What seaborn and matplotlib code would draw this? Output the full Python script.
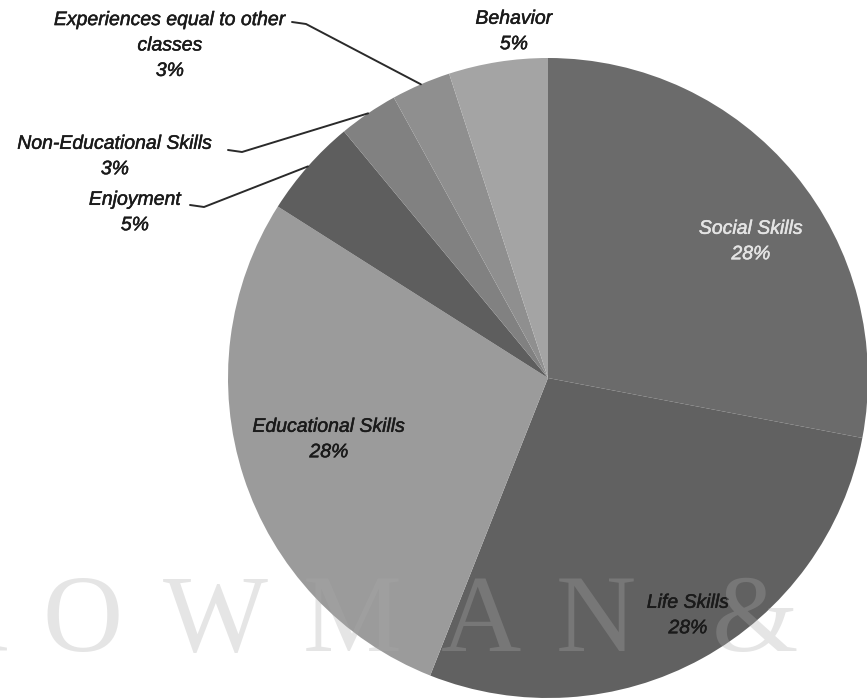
import numpy as np
import matplotlib
matplotlib.use("Agg")
import matplotlib.pyplot as plt
import matplotlib.patheffects as pe
import seaborn as sns

# Survey categories and their share of responses (%), clockwise from 12 o'clock
categories = ["Social Skills", "Life Skills", "Educational Skills", "Enjoyment",
              "Non-Educational Skills", "Experiences equal to other\nclasses", "Behavior"]
shares = [28, 28, 28, 5, 3, 3, 5]
pct_labels = ["28%", "28%", "28%", "5%", "3%", "3%", "5%"]
slice_colors = ["#6b6b6b", "#616161", "#9b9b9b", "#5e5e5e", "#818181", "#8f8f8f", "#a4a4a4"]

sns.set_theme(style="white")
plt.rcParams["font.family"] = ["Liberation Sans", "DejaVu Sans"]

W, H = 867, 700
fig = plt.figure(figsize=(W / 100, H / 100), dpi=100)
ax = fig.add_axes([0, 0, 1, 1])

cx, cy, R = 548, H - 378, 320
wedges, _ = ax.pie(shares, colors=slice_colors, startangle=90, counterclock=False,
                   center=(cx, cy), radius=R, wedgeprops=dict(linewidth=0))

ax.set_xlim(0, W)
ax.set_ylim(0, H)
ax.set_aspect("equal")
ax.axis("off")

# label placement (inside labels for the big slices, outside with leaders for the small ones)
label_pos = {
    0: (751, H - 242, "#e4e4e4"),
    1: (688, H - 616, "#1a1a1a"),
    2: (329, H - 440, "#1a1a1a"),
    3: (135, H - 213, "#1a1a1a"),
    4: (115, H - 157, "#1a1a1a"),
    5: (170, H - 46, "#1a1a1a"),
    6: (514, H - 32, "#1a1a1a"),
}
for i, (x, y, c) in label_pos.items():
    ax.text(x, y, f"{categories[i]}\n{pct_labels[i]}", ha="center", va="center",
            fontsize=14, style="italic", color=c, linespacing=1.65, zorder=5,
            path_effects=[pe.withStroke(linewidth=0.35, foreground=c)])

# leader lines from the outside labels to the slice rims
leader_start = {3: (190, H - 205), 4: (228, H - 150), 5: (292, H - 22)}
for i, (sx, sy) in leader_start.items():
    w = wedges[i]
    mid = np.deg2rad((w.theta1 + w.theta2) / 2)
    ex, ey = cx + R * np.cos(mid), cy + R * np.sin(mid)
    ax.plot([sx, sx + 14, ex], [sy, sy - 2, ey], color="#2a2a2a", lw=1.4, zorder=4,
            solid_capstyle="round")

# publisher watermark across the lower part
mark = ["R", "O", "W", "M", "A", "N", "&"]
mark_x = [-30, 83, 215, 352, 481, 596, 755]
for ch, x in zip(mark, mark_x):
    ax.text(x, H - 624, ch, ha="center", va="center", fontsize=80,
            family="Liberation Serif", color="#aaaaaa", alpha=0.3, zorder=6)

fig.savefig("out.png", dpi=100)
